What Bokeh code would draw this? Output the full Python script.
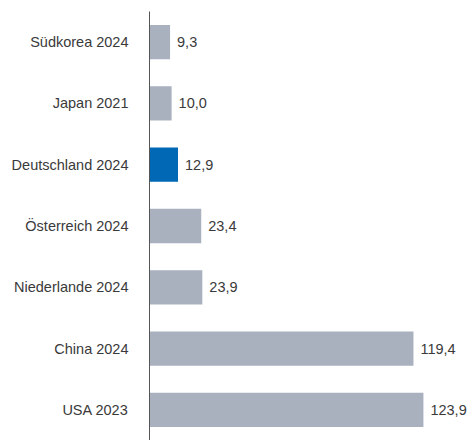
from bokeh.plotting import figure
from bokeh.models import ColumnDataSource, Range1d, FactorRange
from bokeh.core.properties import value
from bokeh.embed import file_html
from bokeh.resources import INLINE

categories = ["Südkorea 2024", "Japan 2021", "Deutschland 2024", "Österreich 2024",
              "Niederlande 2024", "China 2024", "USA 2023"]
values = [9.3, 10.0, 12.9, 23.4, 23.9, 119.4, 123.9]
value_labels = ["9,3", "10,0", "12,9", "23,4", "23,9", "119,4", "123,9"]
highlight = "Deutschland 2024"

GREY = "#a9b1bf"
BLUE = "#0068b4"
colors = [BLUE if c == highlight else GREY for c in categories]

src = ColumnDataSource(dict(cat=categories, val=values, lab=value_labels, color=colors))

p = figure(width=470, height=440, output_backend="svg", toolbar_location=None,
           y_range=FactorRange(factors=list(reversed(categories)), range_padding=0),
           x_range=Range1d(0, 145.2),
           min_border_left=149, min_border_top=11, min_border_right=0, min_border_bottom=0)

p.hbar(y="cat", right="val", left=0, height=0.56, color="color", line_color=None, source=src)
p.text(x="val", y="cat", text="lab", source=src, x_offset=7, text_baseline="middle",
       text_align="left", text_font=value("Liberation Sans"), text_font_size="14.5px",
       text_color="#3a3a3a")

p.xaxis.visible = False
p.xgrid.visible = False
p.ygrid.visible = False
p.outline_line_color = None
yax = p.yaxis[0]
yax.major_tick_line_color = None
yax.minor_tick_line_color = None
yax.axis_line_color = "#555555"
yax.axis_line_width = 1
yax.major_label_text_font = "Liberation Sans"
yax.major_label_text_font_size = "14.5px"
yax.major_label_text_color = "#3a3a3a"
yax.major_label_standoff = 15

open("out.html", "w").write(file_html(p, INLINE))
